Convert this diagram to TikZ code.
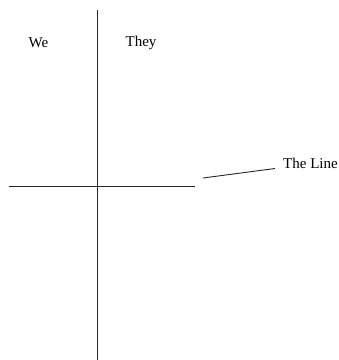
\documentclass[tikz,border=0pt]{standalone}
\usepackage{fontspec}
\setmainfont{Liberation Serif}
\begin{document}
\begin{tikzpicture}[x=1pt,y=-1pt,
  lbl/.style={inner sep=0pt,font=\fontsize{15}{17}\selectfont},
  ln/.style={line width=0.9pt,draw=black!85}]
\useasboundingbox (0,0) rectangle (339,360);
\coordinate (vtop) at (97.5,10);
\coordinate (vbot) at (97.5,360);
\coordinate (hl) at (9,186);
\coordinate (hr) at (195,186);
\coordinate (sa) at (203,178);
\coordinate (sb) at (275,168.5);
\draw[ln] (vtop) -- (vbot);
\draw[ln] (hl) -- (hr);
\draw[ln] (sa) -- (sb);
\node[lbl] (we) at (38.5,43) {We};
\node[lbl] (they) at (141,43) {They};
\node[lbl,anchor=west] (theline) at (283,163) {The Line};
\end{tikzpicture}
\end{document}
